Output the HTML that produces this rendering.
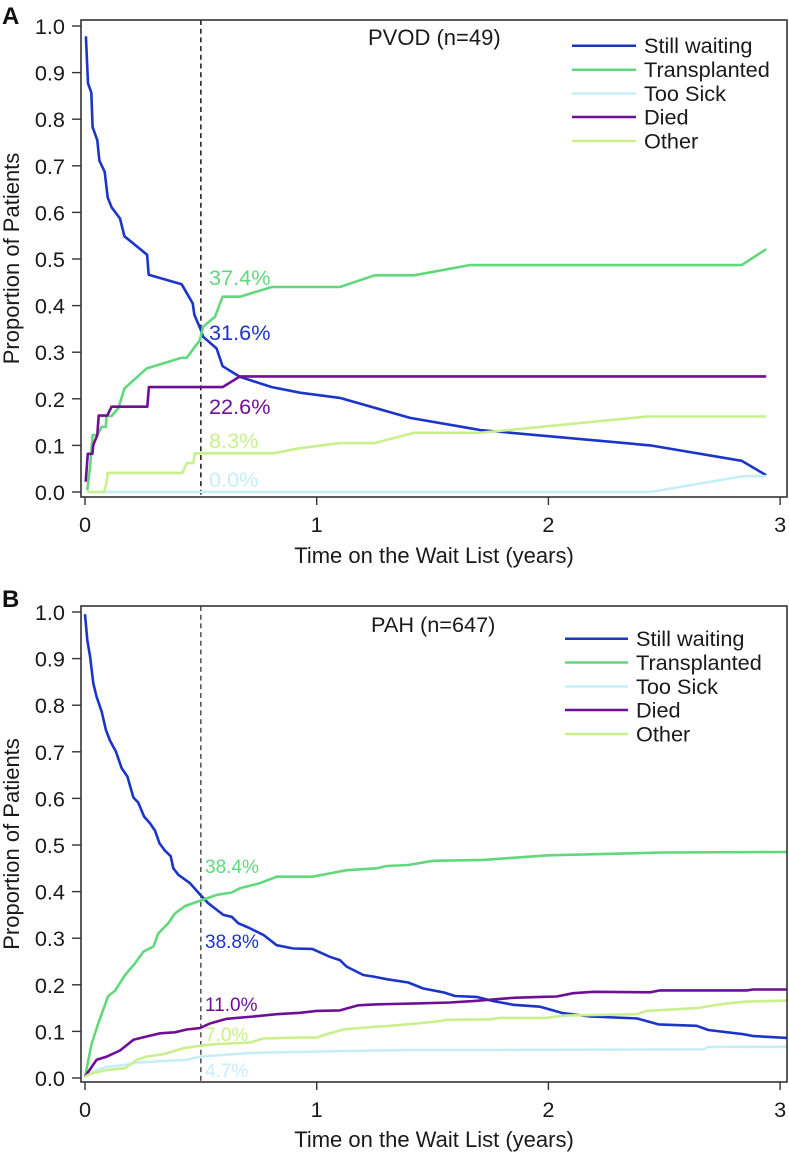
<!DOCTYPE html>
<html lang="en">
<head>
<meta charset="utf-8">
<title>Wait list outcomes: PVOD and PAH</title>
<style>
html,body{margin:0;padding:0;background:#fff;}
svg{display:block;font-family:"Liberation Sans",Arial,sans-serif;}
text{fill:#1a1a1a;font-size:21.7px;}
.small{font-size:19px;}
.axis-title{font-size:22px;}
.letter{font-weight:bold;font-size:24px;fill:#111;}
</style>
</head>
<body>
<svg id="chart" xmlns="http://www.w3.org/2000/svg" width="789" height="1154" viewBox="0 0 789 1154">
  <rect width="789" height="1154" fill="#ffffff"/>
  <g id="panel-a">
    <text class="letter" x="2" y="24">A</text>
    <text x="368" y="45" style="font-size:22px">PVOD (n=49)</text>
    <text class="axis-title" transform="translate(19,258.5) rotate(-90)" text-anchor="middle">Proportion of Patients</text>
    <text class="axis-title" x="434" y="563" text-anchor="middle">Time on the Wait List (years)</text>
    <g id="a-legend">
      <line x1="572" x2="636" y1="45.7" y2="45.7" stroke="#1a35c8" stroke-width="2.5"/>
      <text x="644" y="53">Still waiting</text>
      <line x1="572" x2="636" y1="69.7" y2="69.7" stroke="#62d87c" stroke-width="2.5"/>
      <text x="644" y="77">Transplanted</text>
      <line x1="572" x2="636" y1="93.5" y2="93.5" stroke="#c6eef9" stroke-width="2.5"/>
      <text x="644" y="101">Too Sick</text>
      <line x1="572" x2="636" y1="117" y2="117" stroke="#6f0f96" stroke-width="2.5"/>
      <text x="644" y="124.5">Died</text>
      <line x1="572" x2="636" y1="141" y2="141" stroke="#c9f08c" stroke-width="2.5"/>
      <text x="644" y="148.5">Other</text>
    </g>
    <text x="209" y="285" style="fill:#62d87c">37.4%</text>
    <text x="209" y="340" style="fill:#1a35c8">31.6%</text>
    <text x="209" y="414" style="fill:#6f0f96">22.6%</text>
    <text x="209" y="448" style="fill:#c9f08c">8.3%</text>
    <text x="209" y="487" style="fill:#c6eef9">0.0%</text>
  </g>
  <g id="panel-b">
    <text class="letter" x="2" y="607">B</text>
    <text x="371" y="632">PAH (n=647)</text>
    <text class="axis-title" transform="translate(19,844) rotate(-90)" text-anchor="middle">Proportion of Patients</text>
    <text class="axis-title" x="434" y="1147" text-anchor="middle">Time on the Wait List (years)</text>
    <g id="b-legend">
      <line x1="565" x2="628" y1="638.7" y2="638.7" stroke="#1a35c8" stroke-width="2.5"/>
      <text x="636" y="646">Still waiting</text>
      <line x1="565" x2="628" y1="662.5" y2="662.5" stroke="#62d87c" stroke-width="2.5"/>
      <text x="636" y="670">Transplanted</text>
      <line x1="565" x2="628" y1="686.5" y2="686.5" stroke="#c6eef9" stroke-width="2.5"/>
      <text x="636" y="694">Too Sick</text>
      <line x1="565" x2="628" y1="710" y2="710" stroke="#6f0f96" stroke-width="2.5"/>
      <text x="636" y="717.5">Died</text>
      <line x1="565" x2="628" y1="734" y2="734" stroke="#c9f08c" stroke-width="2.5"/>
      <text x="636" y="741.5">Other</text>
    </g>
    <text class="small" x="205" y="873" style="fill:#62d87c">38.4%</text>
    <text class="small" x="205" y="948" style="fill:#1a35c8">38.8%</text>
    <text class="small" x="205" y="1011" style="fill:#6f0f96">11.0%</text>
    <text class="small" x="205" y="1041" style="fill:#c9f08c">7.0%</text>
    <text class="small" x="205" y="1077" style="fill:#c6eef9">4.7%</text>
  </g>
</svg>
<script>
var yTicks = ['0.0','0.1','0.2','0.3','0.4','0.5','0.6','0.7','0.8','0.9','1.0'];
var xTicks = ['0','1','2','3'];
var sixMonths = 0.5;

var aWaitingT = [0.004,0.013,0.027,0.033,0.053,0.062,0.085,0.098,0.115,0.151,0.17,0.268,0.275,0.417,0.465,0.472,0.5,0.51,0.568,0.594,0.669,0.806,0.928,1.1,1.403,1.66,1.705,2.44,2.834,2.94];
var aWaitingV = [0.978,0.877,0.857,0.783,0.755,0.711,0.687,0.632,0.611,0.587,0.549,0.509,0.466,0.446,0.405,0.38,0.348,0.333,0.308,0.27,0.247,0.225,0.213,0.202,0.159,0.137,0.133,0.1,0.067,0.036];
var aTransT = [0.01,0.022,0.033,0.053,0.072,0.09,0.093,0.115,0.144,0.17,0.266,0.417,0.439,0.496,0.51,0.561,0.594,0.669,0.806,1.1,1.25,1.42,1.66,2.834,2.94];
var aTransV = [0.004,0.054,0.122,0.122,0.14,0.14,0.163,0.163,0.18,0.222,0.265,0.288,0.288,0.326,0.355,0.376,0.419,0.419,0.44,0.44,0.465,0.465,0.487,0.487,0.521];
var aSickT = [0.01,2.44,2.84,2.94];
var aSickV = [0,0,0.034,0.034];
var aDiedT = [0.003,0.012,0.032,0.036,0.053,0.059,0.096,0.115,0.269,0.276,0.594,0.669,2.94];
var aDiedV = [0.022,0.082,0.082,0.101,0.122,0.164,0.164,0.183,0.183,0.225,0.225,0.248,0.248];
var aOtherT = [0.01,0.082,0.094,0.098,0.42,0.439,0.468,0.474,0.813,0.928,1.1,1.25,1.42,1.705,2.424,2.94];
var aOtherV = [0,0,0.022,0.041,0.041,0.062,0.062,0.083,0.083,0.094,0.105,0.105,0.127,0.127,0.162,0.162];

var bWaitingT = [0,0.01,0.022,0.036,0.05,0.072,0.09,0.108,0.134,0.158,0.183,0.209,0.23,0.255,0.28,0.302,0.321,0.345,0.37,0.381,0.403,0.453,0.496,0.532,0.597,0.633,0.662,0.705,0.77,0.827,0.899,0.981,1.057,1.1,1.129,1.201,1.252,1.302,1.395,1.46,1.546,1.597,1.69,1.762,1.849,1.964,2.064,2.18,2.381,2.475,2.64,2.69,2.841,2.885,3.03];
var bWaitingV = [0.995,0.94,0.904,0.847,0.818,0.786,0.747,0.724,0.7,0.665,0.647,0.602,0.591,0.561,0.547,0.531,0.504,0.488,0.476,0.45,0.436,0.418,0.394,0.375,0.35,0.346,0.332,0.323,0.307,0.285,0.278,0.277,0.26,0.253,0.239,0.221,0.217,0.212,0.205,0.192,0.184,0.176,0.174,0.165,0.157,0.153,0.139,0.132,0.128,0.115,0.112,0.103,0.094,0.09,0.086];
var bTransT = [0,0.029,0.057,0.1,0.129,0.173,0.216,0.252,0.295,0.316,0.359,0.388,0.432,0.496,0.568,0.633,0.669,0.755,0.827,0.981,1.057,1.129,1.259,1.302,1.395,1.503,1.719,2.0,2.5,3.03];
var bTransV = [0.003,0.074,0.117,0.176,0.187,0.221,0.246,0.271,0.282,0.31,0.332,0.353,0.369,0.38,0.393,0.398,0.407,0.418,0.432,0.432,0.439,0.446,0.45,0.455,0.457,0.466,0.468,0.478,0.484,0.485];
var bSickT = [0,0.05,0.094,0.173,0.223,0.353,0.439,0.496,0.64,0.727,0.928,1.129,1.417,1.79,2.67,2.69,3.03];
var bSickV = [0.003,0.017,0.024,0.028,0.033,0.037,0.039,0.046,0.051,0.054,0.056,0.058,0.06,0.06,0.0615,0.0665,0.067];
var bDiedT = [0,0.05,0.094,0.151,0.209,0.266,0.324,0.388,0.439,0.496,0.539,0.612,0.727,0.827,0.928,1.0,1.1,1.18,1.252,1.432,1.575,1.676,1.849,1.964,2.036,2.107,2.195,2.438,2.482,2.856,2.884,3.03];
var bDiedV = [0.003,0.039,0.046,0.059,0.082,0.089,0.096,0.098,0.104,0.107,0.117,0.127,0.132,0.137,0.14,0.144,0.145,0.156,0.158,0.16,0.162,0.165,0.172,0.174,0.175,0.182,0.185,0.184,0.188,0.188,0.19,0.19];
var bOtherT = [0,0.029,0.094,0.173,0.223,0.266,0.338,0.424,0.496,0.568,0.712,0.77,0.928,1.0,1.057,1.115,1.201,1.316,1.432,1.532,1.561,1.748,1.79,1.993,2.064,2.381,2.424,2.64,2.77,2.856,3.03];
var bOtherV = [0.003,0.01,0.017,0.021,0.039,0.046,0.051,0.064,0.069,0.073,0.076,0.085,0.087,0.087,0.096,0.104,0.108,0.112,0.117,0.122,0.125,0.126,0.129,0.129,0.134,0.137,0.144,0.15,0.16,0.164,0.166];

var seriesColors = ['#1a35c8','#62d87c','#c6eef9','#6f0f96','#c9f08c'];
var seriesSlugs = ['still-waiting','transplanted','too-sick','died','other'];
var NS = 'http://www.w3.org/2000/svg';

function mk(tag, attrs) {
  var el = document.createElementNS(NS, tag);
  for (var k in attrs) { el.setAttribute(k, attrs[k]); }
  return el;
}

function drawPanel(parentId, box, axis, series, dashW) {
  var parent = document.getElementById(parentId);
  var first = parent.firstChild;
  var clipId = parentId + '-clip';
  var xScale = function (t) { return axis.x0 + t * axis.perYear; };
  var yScale = function (v) { return axis.y0 - v * axis.perUnit; };

  var clip = mk('clipPath', {id: clipId});
  clip.appendChild(mk('rect', {x: box.l, y: box.t, width: box.r - box.l, height: box.b - box.t}));
  parent.insertBefore(clip, first);

  var dash = mk('line', {x1: xScale(sixMonths), x2: xScale(sixMonths), y1: box.t, y2: box.b, stroke: '#333', 'stroke-width': dashW, 'stroke-dasharray': '5 3.7'});
  
  
  parent.insertBefore(dash, first);

  series.forEach(function (s, i) {
    var pts = s.t.map(function (t, j) { return xScale(t).toFixed(1) + ',' + yScale(s.v[j]).toFixed(1); }).join(' ');
    var line = mk('polyline', {points: pts, fill: 'none', stroke: seriesColors[i], 'stroke-width': 2.6, 'stroke-linejoin': 'round', 'clip-path': 'url(#' + clipId + ')'});
    
    
    parent.insertBefore(line, first);
  });

  var frame = mk('rect', {x: box.l, y: box.t, width: box.r - box.l, height: box.b - box.t, fill: 'none', stroke: '#333', 'stroke-width': 1.6});
  
  
  parent.appendChild(frame);

  yTicks.forEach(function (label) {
    var y = yScale(parseFloat(label));
    var tick = mk('line', {x1: box.l - 9, x2: box.l, y1: y, y2: y, stroke: '#333', 'stroke-width': 1.4});
    
    
    parent.appendChild(tick);
    var txt = mk('text', {x: 65, y: y + 8, 'text-anchor': 'end'});
    
    
    txt.textContent = label;
    parent.appendChild(txt);
  });

  xTicks.forEach(function (label) {
    var x = xScale(parseFloat(label));
    var tick = mk('line', {x1: x, x2: x, y1: box.b, y2: box.b + 8, stroke: '#333', 'stroke-width': 1.4});
    
    
    parent.appendChild(tick);
    var txt = mk('text', {x: x, y: box.b + 35, 'text-anchor': 'middle'});
    
    
    txt.textContent = label;
    parent.appendChild(txt);
  });
}

drawPanel('panel-a', {l: 81, t: 20, r: 787, b: 497}, {x0: 85, perYear: 231.7, y0: 492, perUnit: 466}, [
  {t: aWaitingT, v: aWaitingV},
  {t: aTransT, v: aTransV},
  {t: aSickT, v: aSickV},
  {t: aDiedT, v: aDiedV},
  {t: aOtherT, v: aOtherV}
], 1.7);

drawPanel('panel-b', {l: 81, t: 606, r: 787, b: 1082}, {x0: 85, perYear: 231.7, y0: 1078, perUnit: 466}, [
  {t: bWaitingT, v: bWaitingV},
  {t: bTransT, v: bTransV},
  {t: bSickT, v: bSickV},
  {t: bDiedT, v: bDiedV},
  {t: bOtherT, v: bOtherV}
], 1.3);
</script>
</body>
</html>
